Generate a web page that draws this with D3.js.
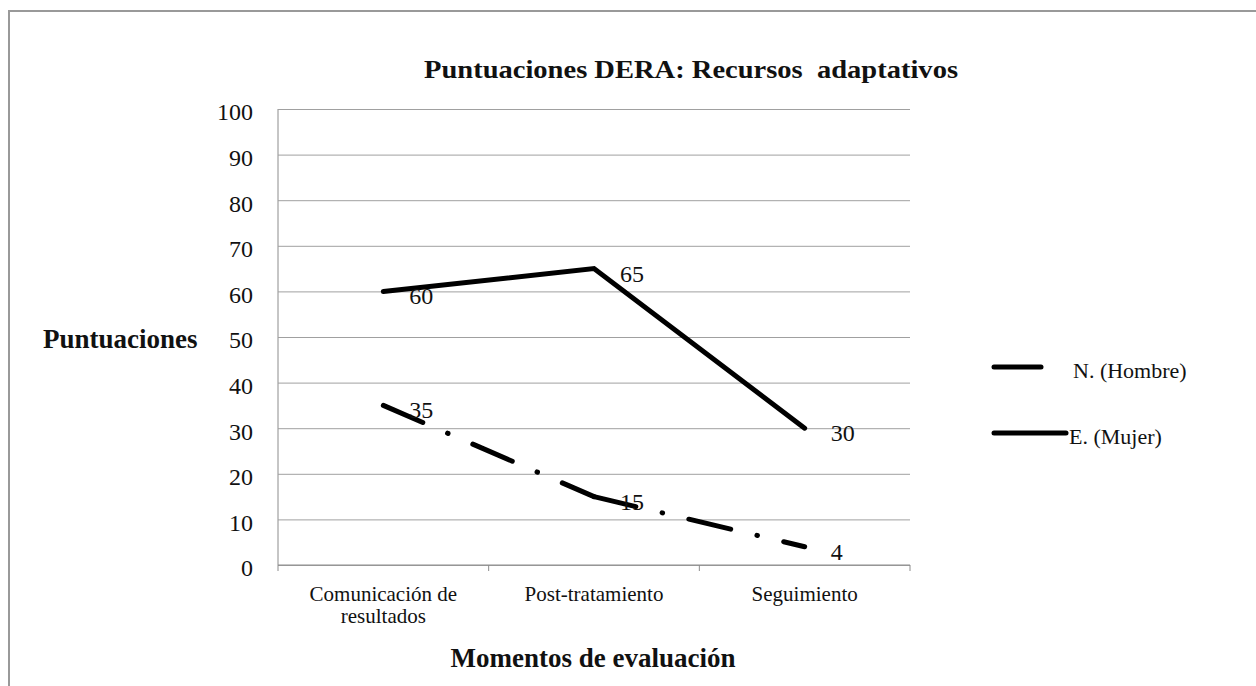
<!DOCTYPE html>
<html>
<head>
<meta charset="utf-8">
<script src="https://cdn.jsdelivr.net/npm/d3@7"></script>
<style>
  body { margin: 0; background: #fff; }
  text { font-family: "Liberation Serif", "Times New Roman", serif; fill: #111; white-space: pre; }
</style>
</head>
<body>
<svg width="1256" height="686"></svg>
<script>
// data
const categories = ["Comunicación de\nresultados", "Post-tratamiento", "Seguimiento"];
const hombre = [35, 15, 4];
const mujer = [60, 65, 30];
const seriesNames = ["N. (Hombre)", "E. (Mujer)"];
const yTicks = [0, 10, 20, 30, 40, 50, 60, 70, 80, 90, 100];

const svg = d3.select("svg");
const dashDot = "43 27 0.5 27";

// outer frame (cut by page edge on right and bottom)
svg.append("path").attr("d", "M9,686V11H1256")
   .attr("fill", "none").attr("stroke", "#999").attr("stroke-width", 2);

const pLeft = 278, pRight = 910, pTop = 109, pBottom = 565;

const x = d3.scaleBand().domain(categories).range([pLeft, pRight]).padding(0);
const y = d3.scaleLinear().domain([0, 100]).range([pBottom, pTop]);
const cx = c => x(c) + x.bandwidth() / 2;

//GRID + Y AXIS
const yAxis = svg.append("g").attr("transform", "translate(" + pLeft + ",0)")
   .call(d3.axisLeft(y).tickValues(yTicks).tickSize(9).tickPadding(16).tickFormat(d3.format("d")));
yAxis.select(".domain").attr("stroke", "#8c8c8c").attr("d", "M0," + pTop + "V" + pBottom);
yAxis.selectAll(".tick line").attr("stroke", "#a0a0a0").attr("x2", pRight - pLeft);
yAxis.selectAll(".tick text").attr("font-size", 24).attr("dy", "0.45em").attr("fill", "#111");

//X AXIS
const xAxis = svg.append("g").attr("transform", "translate(0," + pBottom + ")")
   .call(d3.axisBottom(x).tickSize(0).tickFormat(""));
xAxis.select(".domain").attr("stroke", "#8c8c8c").attr("d", "M" + pLeft + ",0H" + pRight);
const edges = categories.map(c => x(c)).concat([pRight]);
xAxis.selectAll(".edge").data(edges).enter().append("line")
   .attr("x1", d => d).attr("x2", d => d).attr("y1", 0).attr("y2", 6)
   .attr("stroke", "#8c8c8c");
xAxis.selectAll(".cat").data(categories).enter().append("text")
   .attr("text-anchor", "middle")
   .attr("font-size", 21)
   .each(function(d) {
      const t = d3.select(this);
      d.split("\n").forEach((line, i) => {
         t.append("tspan").attr("x", cx(d)).attr("y", 36 + i * 22).text(line);
      });
   });

//LINES
const line = d3.line().x((d, i) => cx(categories[i])).y(d => y(d));

svg.append("path").datum(mujer).attr("d", line)
   .attr("fill", "none").attr("stroke", "#000").attr("stroke-width", 5)
   .attr("stroke-linejoin", "miter").attr("stroke-linecap", "round");

// dash pattern restarts on every segment
const hombrePts = hombre.map((v, i) => [cx(categories[i]), y(v)]);
svg.selectAll(".seg").data(d3.pairs(hombrePts)).enter().append("path")
   .attr("d", d => d3.line()(d))
   .attr("fill", "none").attr("stroke", "#000").attr("stroke-width", 5)
   .attr("stroke-dasharray", dashDot).attr("stroke-linecap", "round");

//LABELS
[mujer, hombre].forEach(s => {
   svg.selectAll(null).data(s).enter().append("text")
      .attr("x", (d, i) => cx(categories[i]) + 26)
      .attr("y", d => y(d) + 13)
      .attr("font-size", 24)
      .text(d => d);
});

//TITLES
svg.append("text").attr("x", 691).attr("y", 78).attr("text-anchor", "middle")
   .attr("font-size", 26).attr("font-weight", "bold")
   .attr("textLength", 534).attr("lengthAdjust", "spacingAndGlyphs")
   .text("Puntuaciones DERA: Recursos  adaptativos");
svg.append("text").attr("x", 43).attr("y", 348)
   .attr("font-size", 27).attr("font-weight", "bold")
   .text("Puntuaciones");
svg.append("text").attr("x", 593).attr("y", 667).attr("text-anchor", "middle")
   .attr("font-size", 27).attr("font-weight", "bold")
   .text("Momentos de evaluación");

//LEGEND
const legendY = [367, 433];
const legend = svg.selectAll(".legend").data(seriesNames).enter().append("g");
legend.append("line")
   .attr("x1", 994).attr("x2", (d, i) => i === 0 ? 1041 : 1066)
   .attr("y1", (d, i) => legendY[i]).attr("y2", (d, i) => legendY[i])
   .attr("stroke", "#000").attr("stroke-width", 5).attr("stroke-linecap", "round");
legend.append("text")
   .attr("x", (d, i) => i === 0 ? 1073 : 1069)
   .attr("y", (d, i) => legendY[i] + 11)
   .attr("font-size", 22)
   .text(d => d);
</script>
</body>
</html>
